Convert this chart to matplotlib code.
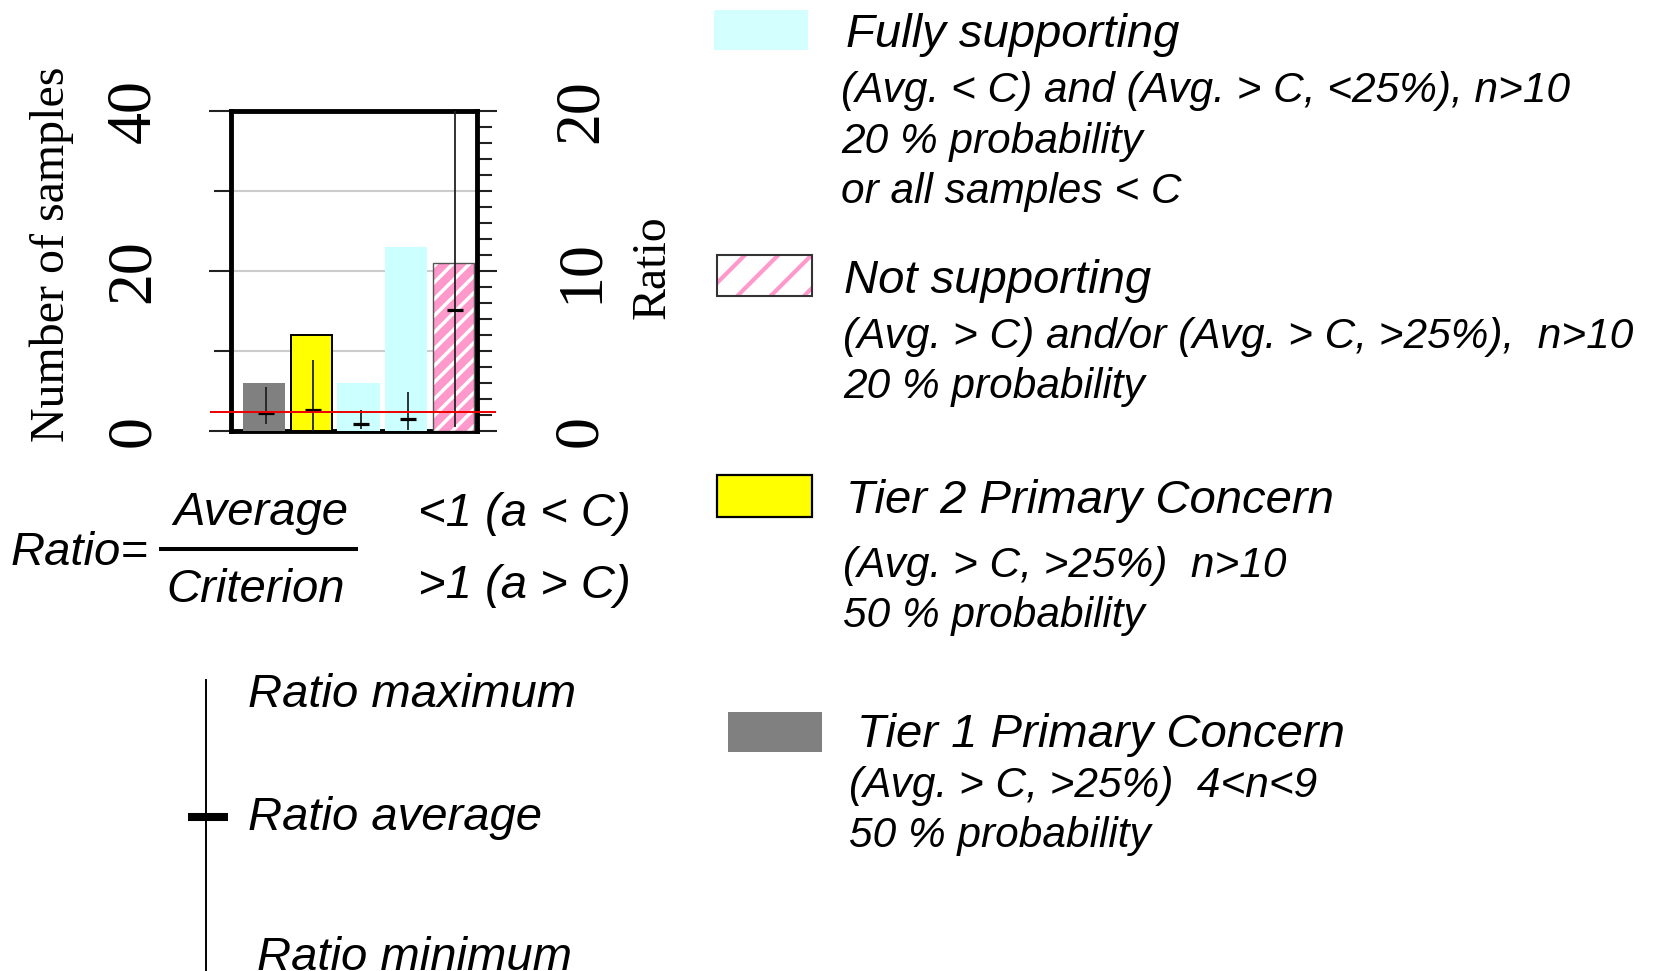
import matplotlib
matplotlib.use("Agg")
import matplotlib.pyplot as plt
from matplotlib.patches import Rectangle
from matplotlib.ticker import MultipleLocator

W, H, DPI = 1659, 971, 100

# ---------------- data ----------------
categories = ["Tier 1 Primary Concern", "Tier 2 Primary Concern",
              "Fully supporting", "Fully supporting", "Not supporting"]
sample_counts = [6, 12, 6, 23, 21]
ratio_max = [2.71, 4.42, 1.29, 2.42, 20.0]
ratio_min = [0.42, 0.0, 0.09, 0.04, 0.25]
ratio_avg = [1.09, 1.27, 0.42, 0.73, 7.54]
criterion_line = 1.17
count_ticks = [0, 20, 40]
count_minor_ticks = [10, 30]
ratio_ticks = [0, 10, 20]

bar_face = ["#808080", "#FFFF00", "#CCFFFF", "#CCFFFF", "#FF99CC"]
bar_edge = [None, "black", None, None, "#555555"]
bar_hatch = [None, None, None, None, "//"]

SERIF = "Liberation Serif"
SANS = "Liberation Sans"

fig = plt.figure(figsize=(W / DPI, H / DPI), dpi=DPI)
fig.patch.set_facecolor("white")


def px_rect(x0, y0, x1, y1):
    return [x0 / W, 1 - y1 / H, (x1 - x0) / W, (y1 - y0) / H]


ax = fig.add_axes(px_rect(230.5, 111, 477, 430.7))
ax2 = ax.twinx()

xs = list(range(len(sample_counts)))
for i in xs:
    if bar_hatch[i]:
        with plt.rc_context({"hatch.linewidth": 2.5}):
            ax.bar(i, sample_counts[i], width=0.86, color=bar_face[i], edgecolor="white",
                   hatch=bar_hatch[i], linewidth=0, zorder=3)
        ax.bar(i, sample_counts[i], width=0.86, fill=False, edgecolor=bar_edge[i],
               linewidth=1.0, zorder=3.1)
    elif bar_edge[i]:
        ax.bar(i, sample_counts[i], width=0.88, color=bar_face[i], edgecolor=bar_edge[i],
               linewidth=1.4, zorder=3)
    else:
        ax.bar(i, sample_counts[i], width=0.90, color=bar_face[i], linewidth=0, zorder=3)

ax.set_xlim(-0.71, 4.5)
ax.set_ylim(0, 40)
ax2.set_ylim(0, 20)

# ratio ranges
ex = [i + 0.04 for i in xs]
ax2.vlines(ex, ratio_min, ratio_max, colors="#222222", linewidth=1.3, zorder=5)
ax2.hlines(ratio_avg, [e - 0.17 for e in ex], [e + 0.17 for e in ex],
           colors="black", linewidth=2.3, zorder=5)
ax2.hlines(criterion_line, -1.15, 4.9, colors="#EE0000", linewidth=1.4,
           clip_on=False, zorder=6)

# spines
for s in ["left", "top", "bottom"]:
    ax.spines[s].set_linewidth(3.5)
    ax.spines[s].set_color("black")
ax.spines["right"].set_visible(False)
for s in ["left", "top", "bottom"]:
    ax2.spines[s].set_visible(False)
ax2.spines["right"].set_linewidth(3.5)
ax2.spines["right"].set_color("black")

# left axis
ax.set_xticks([])
ax.set_yticks(count_ticks)
ax.set_yticks(count_minor_ticks, minor=True)
ax.set_yticklabels([str(t) for t in count_ticks], rotation=90, va="center",
                   fontsize=46, fontfamily=SERIF)
ax.tick_params(axis="y", which="major", length=15.5, width=1.5, color="#222222", pad=33)
ax.tick_params(axis="y", which="minor", length=12.6, width=1.5, color="#222222")
ax.yaxis.grid(True, which="both", color="#CCCCCC", linewidth=1.5)
ax.set_axisbelow(True)

# right axis
ax2.set_yticks(ratio_ticks)
ax2.yaxis.set_minor_locator(MultipleLocator(1))
ax2.set_yticklabels([str(t) for t in ratio_ticks], rotation=90, va="center",
                    fontsize=46, fontfamily=SERIF)
ax2.tick_params(axis="y", which="major", length=14.4, width=1.5, color="#222222", pad=40)
ax2.tick_params(axis="y", which="minor", length=10.6, width=1.5, color="#222222")

# ---------------- overlay (pixel coordinates, y downward) ----------------
ov = fig.add_axes([0, 0, 1, 1])
ov.set_xlim(0, W)
ov.set_ylim(H, 0)
ov.axis("off")

ov.text(64, 254, "Number of samples", rotation=90, rotation_mode="anchor",
        ha="center", va="baseline", fontsize=34.5, fontfamily=SERIF)
ov.text(665, 267, "Ratio", rotation=90, rotation_mode="anchor",
        ha="center", va="baseline", fontsize=34.5, fontfamily=SERIF)


def itext(x, y, s, size):
    ov.text(x, y, s, ha="left", va="baseline", fontsize=size, fontfamily=SANS,
            fontstyle="italic")


BIG, SMALL = 34, 30.5

# legend swatches
ov.add_patch(Rectangle((714, 10), 94, 40, facecolor="#D4FFFF", edgecolor="none"))
with plt.rc_context({"hatch.linewidth": 3.0}):
    ov.add_patch(Rectangle((717, 255), 95, 41, facecolor="white", edgecolor="#FF99CC",
                           hatch="/", linewidth=0))
ov.add_patch(Rectangle((717, 255), 95, 41, fill=False, edgecolor="#333333", linewidth=1.5))
ov.add_patch(Rectangle((717, 475), 95, 42, facecolor="#FFFF00", edgecolor="black",
                       linewidth=1.6))
ov.add_patch(Rectangle((728, 712), 94, 40, facecolor="#808080", edgecolor="none"))

itext(846, 47, "Fully supporting", BIG)
itext(841, 102, "(Avg. < C) and (Avg. > C, <25%), n>10", SMALL)
itext(841, 153, "20 % probability", SMALL)
itext(841, 203, "or all samples < C", SMALL)

itext(844, 293, "Not supporting", BIG)
itext(843, 348, "(Avg. > C) and/or (Avg. > C, >25%),  n>10", SMALL)
itext(843, 398, "20 % probability", SMALL)

itext(846, 513, "Tier 2 Primary Concern", BIG)
itext(843, 577, "(Avg. > C, >25%)  n>10", SMALL)
itext(843, 627, "50 % probability", SMALL)

itext(857, 747, "Tier 1 Primary Concern", BIG)
itext(849, 797, "(Avg. > C, >25%)  4<n<9", SMALL)
itext(849, 847, "50 % probability", SMALL)

# ratio formula
itext(11, 565, "Ratio=", BIG)
itext(173.5, 525, "Average", BIG)
itext(166, 602, "Criterion", BIG)
ov.plot([159, 358], [549, 549], color="black", linewidth=2.9, solid_capstyle="butt")
itext(418, 526, "<1 (a < C)", BIG)
itext(418, 598, ">1 (a > C)", BIG)

# range key
ov.plot([206, 206], [680, 975], color="black", linewidth=1.4, clip_on=False)
ov.plot([187.5, 227.5], [817, 817], color="black", linewidth=5.8, solid_capstyle="butt")
itext(248.5, 707, "Ratio maximum", BIG)
itext(248, 830, "Ratio average", BIG)
itext(257, 970, "Ratio minimum", BIG)

fig.savefig("out.png", dpi=DPI, facecolor="white")
